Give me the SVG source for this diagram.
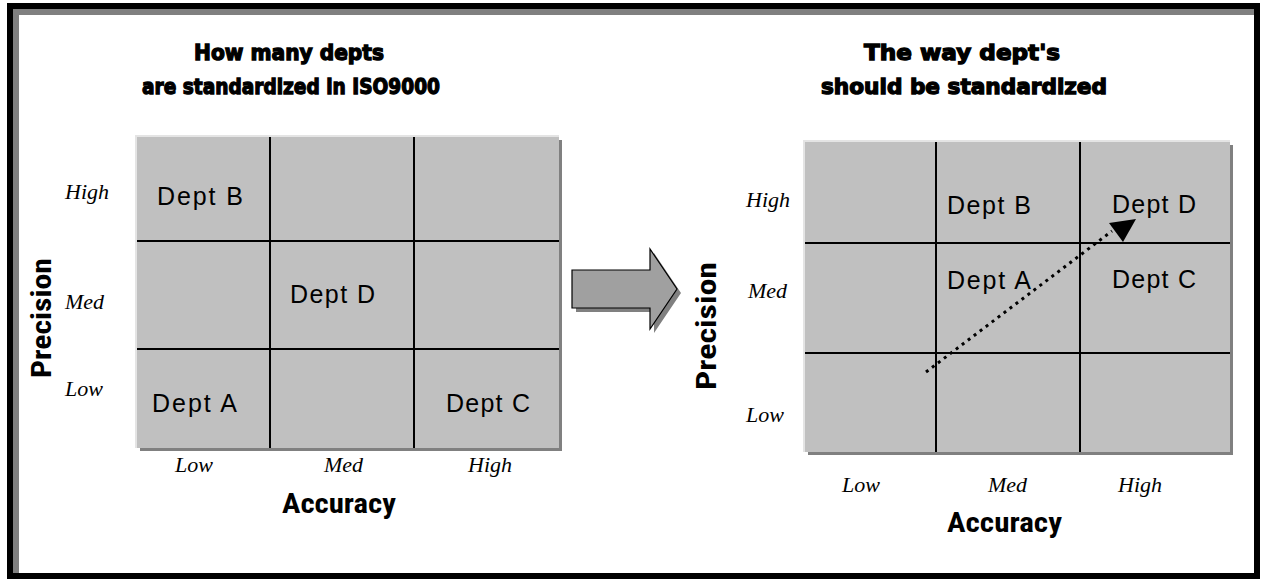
<svg xmlns="http://www.w3.org/2000/svg" width="1264" height="582" viewBox="0 0 1264 582">
<style>
.title{font-family:"DejaVu Sans","Liberation Sans",sans-serif;font-weight:900;font-size:21px;fill:#000;stroke:#000;stroke-width:1.3;text-anchor:middle}
.cell{fill:#c0c0c0}
.gl{stroke:#000;stroke-width:2;fill:none}
.hl{stroke:#e4e4e4;stroke-width:2;fill:none}
.dept{font-family:"Liberation Sans",Arial,sans-serif;font-size:25px;fill:#000}
.ax{font-family:"Liberation Serif","Times New Roman",serif;font-style:italic;font-size:22px;fill:#000}
.axt{font-family:"Liberation Sans Narrow","Roboto Condensed","Liberation Sans",Arial,sans-serif;font-weight:bold;font-size:27px;fill:#000}
</style>
<rect x="0" y="0" width="1264" height="582" fill="#fff"/>
<g id="frame">
<rect x="7" y="3" width="1253" height="576" fill="#000"/>
<rect x="13" y="9" width="1241" height="564" fill="#fff"/>
<rect x="13" y="9" width="1241" height="6" fill="#808080"/>
<rect x="13" y="9" width="6" height="564" fill="#808080"/>
</g>
<g id="title-left">
<text class="title" x="289" y="60" textLength="190" lengthAdjust="spacingAndGlyphs">How many depts</text>
<text class="title" x="291" y="94" textLength="298" lengthAdjust="spacingAndGlyphs">are standardized in ISO9000</text>
</g>
<g id="title-right">
<text class="title" x="962" y="60" textLength="196" lengthAdjust="spacingAndGlyphs">The way dept's</text>
<text class="title" x="964" y="94" textLength="286" lengthAdjust="spacingAndGlyphs">should be standardized</text>
</g>
<g id="grid-left">
<rect x="140" y="140" width="422" height="311" fill="#808080"/>
<rect class="cell" x="137" y="137" width="422" height="311"/>
<path class="hl" d="M136,448 V136 H559"/>
<path class="gl" d="M270,137 V448 M414,137 V448 M137,241 H559 M137,349 H559"/>
<text class="dept" x="157" y="205" textLength="86" lengthAdjust="spacing">Dept B</text>
<text class="dept" x="290" y="303" textLength="85" lengthAdjust="spacing">Dept D</text>
<text class="dept" x="152" y="412" textLength="85" lengthAdjust="spacing">Dept A</text>
<text class="dept" x="446" y="412" textLength="84" lengthAdjust="spacing">Dept C</text>
</g>
<g id="axis-left">
<text class="ax" x="65" y="199">High</text>
<text class="ax" x="65" y="309">Med</text>
<text class="ax" x="65" y="396">Low</text>
<text class="ax" x="175" y="472">Low</text>
<text class="ax" x="324" y="472">Med</text>
<text class="ax" x="468" y="472">High</text>
<text class="axt" x="282" y="513" textLength="114" lengthAdjust="spacingAndGlyphs">Accuracy</text>
<text class="axt" transform="translate(51,318) rotate(-90)" x="-60" y="0" textLength="120" lengthAdjust="spacingAndGlyphs">Precision</text>
</g>
<g id="big-arrow">
<path d="M576,274 H654 V253 L681,293 L654,333 V312 H576 Z" fill="#808080"/>
<path d="M572,270 H650 V249 L677,289 L650,329 V308 H572 Z" fill="#a0a0a0" stroke="#000" stroke-width="1.2"/>
</g>
<g id="grid-right">
<rect x="808" y="145" width="425" height="310" fill="#808080"/>
<rect class="cell" x="805" y="142" width="425" height="310"/>
<path class="hl" d="M804,452 V141 H1230"/>
<path class="gl" d="M936,142 V452 M1080,142 V452 M805,243 H1230 M805,353 H1230"/>
<text class="dept" x="947" y="214" textLength="84" lengthAdjust="spacing">Dept B</text>
<text class="dept" x="947" y="289" textLength="84" lengthAdjust="spacing">Dept A</text>
<text class="dept" x="1112" y="213" textLength="84" lengthAdjust="spacing">Dept D</text>
<text class="dept" x="1112" y="288" textLength="84" lengthAdjust="spacing">Dept C</text>
</g>
<g id="axis-right">
<text class="ax" x="746" y="207">High</text>
<text class="ax" x="748" y="298">Med</text>
<text class="ax" x="746" y="422">Low</text>
<text class="ax" x="842" y="492">Low</text>
<text class="ax" x="988" y="492">Med</text>
<text class="ax" x="1118" y="492">High</text>
<text class="axt" x="947" y="532" textLength="115" lengthAdjust="spacingAndGlyphs">Accuracy</text>
<text class="axt" transform="translate(716,326) rotate(-90)" x="-64" y="0" textLength="128" lengthAdjust="spacingAndGlyphs">Precision</text>
</g>
<g id="connectors">
<line x1="926" y1="372" x2="1112" y2="231" stroke="#000" stroke-width="3" stroke-dasharray="3 4.5"/>
<polygon points="1109,223 1136,219 1123,242" fill="#000"/>
</g>
</svg>
